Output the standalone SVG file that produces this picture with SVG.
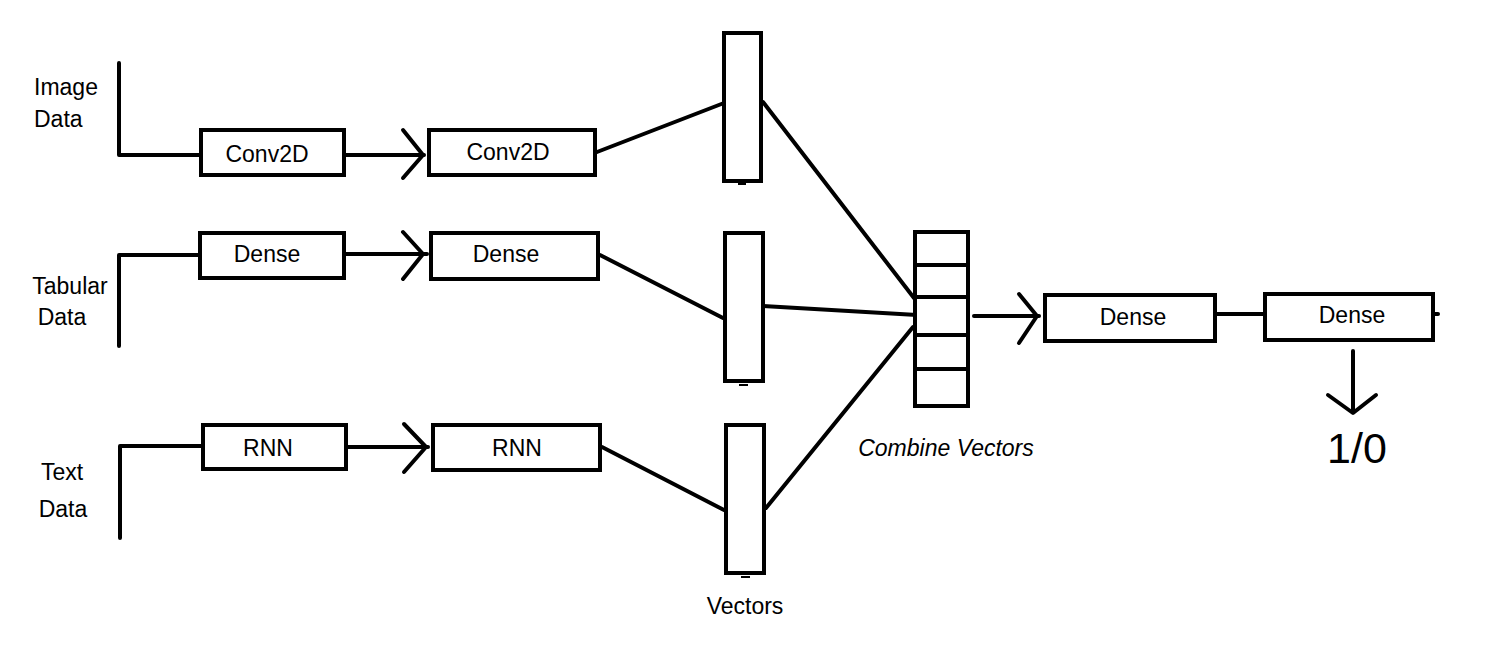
<svg xmlns="http://www.w3.org/2000/svg" width="1495" height="650" viewBox="0 0 1495 650">
<style>
.box{fill:#fff;stroke:#000;stroke-width:4}
.ln{fill:none;stroke:#000;stroke-width:4;stroke-linecap:round;stroke-linejoin:round}
.tk{fill:none;stroke:#000;stroke-width:2}
text{font-family:"Liberation Sans",Arial,sans-serif;font-size:23px;fill:#000}
.c{text-anchor:middle}
</style>
<rect width="1495" height="650" fill="#fff"/>
<g id="connectors">
<polyline class="ln" points="119,63 119,155 199,155"/>
<line class="ln" x1="346" y1="155" x2="424" y2="155"/>
<polyline class="ln" points="403,130 423,155 403,178"/>
<line class="ln" x1="597" y1="152" x2="724" y2="103"/>
<polyline class="ln" points="119,346 119,255 198,255"/>
<line class="ln" x1="346" y1="254" x2="427" y2="254"/>
<polyline class="ln" points="403,232 423,254 403,279"/>
<line class="ln" x1="600" y1="255" x2="723" y2="318"/>
<polyline class="ln" points="120,538 120,446 201,446"/>
<line class="ln" x1="348" y1="447" x2="428" y2="447"/>
<polyline class="ln" points="404,424 426,447 404,472"/>
<line class="ln" x1="602" y1="447" x2="724" y2="510"/>
<line class="ln" x1="763" y1="102" x2="914" y2="298"/>
<line class="ln" x1="763" y1="306" x2="917" y2="315"/>
<line class="ln" x1="766" y1="508" x2="913" y2="327"/>
<line class="ln" x1="974" y1="316" x2="1039" y2="316"/>
<polyline class="ln" points="1019,294 1037,316 1019,343"/>
<line class="ln" x1="1217" y1="314" x2="1263" y2="314"/>
<line class="ln" x1="1435" y1="314" x2="1438" y2="314"/>
<line class="ln" x1="1353" y1="351" x2="1353" y2="412"/>
<polyline class="ln" points="1328,395 1353,413 1376,395"/>
</g>
<g id="label-image">
<text x="34" y="95">Image</text>
<text x="34" y="127">Data</text>
</g>
<g id="label-tabular">
<text class="c" x="70" y="294">Tabular</text>
<text class="c" x="62" y="325">Data</text>
</g>
<g id="label-text">
<text class="c" x="62" y="480">Text</text>
<text class="c" x="63" y="517">Data</text>
</g>
<g id="conv2d-1"><rect class="box" x="201" y="130" width="143" height="45"/><text class="c" x="267" y="162">Conv2D</text></g>
<g id="conv2d-2"><rect class="box" x="429" y="130" width="166" height="45"/><text class="c" x="508" y="160">Conv2D</text></g>
<g id="dense-1"><rect class="box" x="200" y="233" width="144" height="45"/><text class="c" x="267" y="262">Dense</text></g>
<g id="dense-2"><rect class="box" x="431" y="233" width="167" height="46"/><text class="c" x="506" y="262">Dense</text></g>
<g id="rnn-1"><rect class="box" x="203" y="425" width="143" height="44"/><text class="c" x="268" y="456">RNN</text></g>
<g id="rnn-2"><rect class="box" x="433" y="425" width="167" height="45"/><text class="c" x="517" y="456">RNN</text></g>
<g id="vector-1"><rect class="box" x="724" y="33" width="37" height="148"/><line class="tk" x1="738" y1="184" x2="746" y2="184"/></g>
<g id="vector-2"><rect class="box" x="725" y="233" width="38" height="148"/><line class="tk" x1="739" y1="385" x2="748" y2="385"/></g>
<g id="vector-3"><rect class="box" x="726" y="425" width="38" height="148"/><line class="tk" x1="741" y1="577" x2="750" y2="577"/></g>
<g id="vectors-label"><text class="c" x="745" y="614">Vectors</text></g>
<g id="combine">
<rect class="box" x="915" y="232" width="53" height="174"/>
<line class="ln" x1="915" y1="265" x2="968" y2="265" style="stroke-linecap:butt"/>
<line class="ln" x1="915" y1="297" x2="968" y2="297" style="stroke-linecap:butt"/>
<line class="ln" x1="915" y1="335" x2="968" y2="335" style="stroke-linecap:butt"/>
<line class="ln" x1="915" y1="369" x2="968" y2="369" style="stroke-linecap:butt"/>
<text class="c" x="946" y="456" font-style="italic">Combine Vectors</text>
</g>
<g id="dense-3"><rect class="box" x="1045" y="295" width="170" height="46"/><text class="c" x="1133" y="325">Dense</text></g>
<g id="dense-4"><rect class="box" x="1265" y="294" width="168" height="46"/><text class="c" x="1352" y="323">Dense</text></g>
<g id="output"><text class="c" x="1357" y="463" style="font-size:43px">1/0</text></g>
</svg>
